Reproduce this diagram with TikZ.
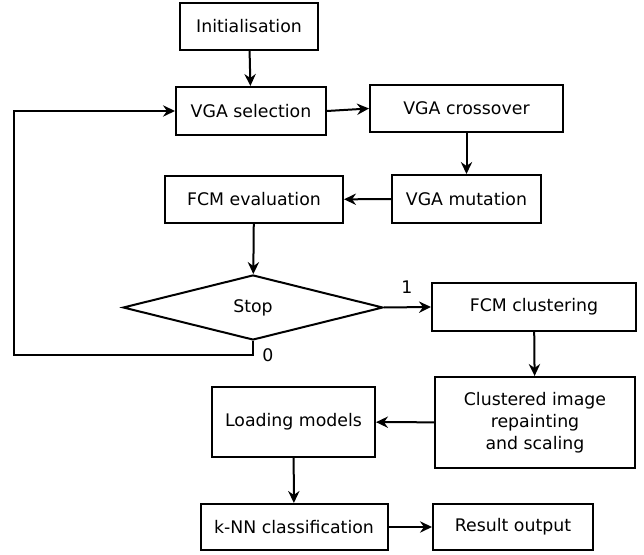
\documentclass[tikz,border=0pt]{standalone}
\usepackage{fontspec}
\setmainfont{DejaVu Sans}
\usetikzlibrary{shapes.geometric,arrows.meta}
\begin{document}
\begin{tikzpicture}[>={Stealth[length=9pt,width=8.5pt,inset=3pt]},x=0.75pt,y=-0.75pt,line width=1.5pt,
	every node/.style={font=\fontsize{13}{16.3}\selectfont,inner sep=0pt},
	block/.style={draw,rectangle,align=center},
	decision/.style={draw,diamond,aspect=4}]
		\useasboundingbox (0,0) rectangle (644,555);
		\node[block,minimum width=103.5pt,minimum height=35.25pt] (init) at (249,26.5) {Initialisation};
		\node[block,minimum width=112.5pt,minimum height=36pt] (sel) at (251,111) {VGA selection};
		\node[block,minimum width=144.75pt,minimum height=35.25pt] (cross) at (466.5,108.5) {VGA crossover};
		\node[block,minimum width=111.75pt,minimum height=36pt] (mut) at (466.5,199) {VGA mutation};
		\node[block,minimum width=133.5pt,minimum height=35.25pt] (eval) at (254,199.5) {FCM evaluation};
		\node[decision,minimum width=195pt,minimum height=48.75pt] (stop) at (253,307.5) {Stop};
		\node[block,minimum width=153pt,minimum height=36pt] (clus) at (534,307) {FCM clustering};
		\node[block,minimum width=150pt,minimum height=68.25pt] (paint) at (535,422.5) {Clustered image\\repainting\\and scaling};
		\node[block,minimum width=122.25pt,minimum height=52.5pt] (load) at (293.5,422) {Loading models};
		\node[block,minimum width=140.25pt,minimum height=34.5pt] (knn) at (294,527) {k-NN classification};
		\node[block,minimum width=120pt,minimum height=34.5pt] (res) at (513,527) {Result output};
		\node (one) at (407,287) {1};
		\node (zero) at (268,355) {0};
		\coordinate (back) at (14,355);
		\draw[->] (init) -- (sel);
		\draw[->] (sel.east) -- (cross.west);
		\draw[->] (cross) -- (mut);
		\draw[->] (mut) -- (eval);
		\draw[->] (eval) -- (stop);
		\draw[->] (stop.east) -- (clus.west);
		\draw[->] (stop.south) |- (back) |- (sel.west);
		\draw[->] (clus) -- (paint);
		\draw[->] (paint) -- (load);
		\draw[->] (load) -- (knn);
		\draw[->] (knn) -- (res);
\end{tikzpicture}
\end{document}
